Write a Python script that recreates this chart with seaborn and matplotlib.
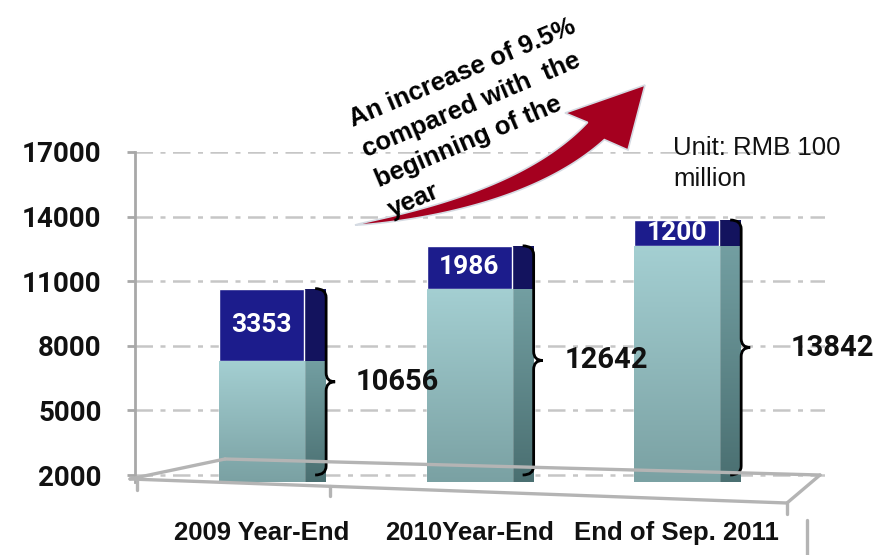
import numpy as np
import pandas as pd
import matplotlib
matplotlib.use("Agg")
import matplotlib.pyplot as plt
import seaborn as sns
from matplotlib.patches import Rectangle, Polygon, PathPatch
from matplotlib.path import Path
from matplotlib.lines import Line2D
from matplotlib.colors import LinearSegmentedColormap

# ---- balances, RMB 100 million ----
periods = ["2009 Year-End", "2010Year-End", "End of Sep. 2011"]
opening_balance = [7303, 10656, 12642]
new_increase = [3353, 1986, 1200]
closing_balance = [10656, 12642, 13842]
y_ticks = [2000, 5000, 8000, 11000, 14000, 17000]
growth_note = "An increase of 9.5%\ncompared with  the\nbeginning of the\nyear"
unit_note = "Unit: RMB 100\nmillion"

# ---- canvas ----
W, H = 891, 555
sns.set_theme(style="white")
plt.rcParams["font.family"] = ["Roboto", "DejaVu Sans"]
ARIAL = ["Liberation Sans", "DejaVu Sans"]
fig = plt.figure(figsize=(W / 100, H / 100), dpi=100)


def fpos(x, y):
    """pixel position (top-left origin) -> figure fraction"""
    return x / W, 1 - y / H


ax_l, ax_r, ax_t, ax_b = 135, 825, 152, 482
ax = fig.add_axes([ax_l / W, 1 - ax_b / H, (ax_r - ax_l) / W, (ax_b - ax_t) / H])

df = pd.DataFrame({"period": periods, "opening": opening_balance,
                   "increase": new_increase, "closing": closing_balance})

bar_w = 0.41
side_w = 0.106
navy, navy_side = "#1c1c8c", "#13135e"
teal_cmap = LinearSegmentedColormap.from_list("teal", ["#7aa1a3", "#a4cfd2"])
teal_side_cmap = LinearSegmentedColormap.from_list("teal_side", ["#4a6f71", "#739fa2"])

# full stack (navy shows as the increase on top), then opening balance over it
sns.barplot(data=df, x="period", y="closing", color=navy, width=bar_w,
            saturation=1, ax=ax, zorder=3)
sns.barplot(data=df, x="period", y="opening", color="#93c0c3", width=bar_w,
            saturation=1, ax=ax, zorder=4)

ymin, ymax = 1675, 17000
xlim = (-0.61, 2.715)
grad = np.linspace(1, 0, 256)[:, None]

n = len(periods)
top_patches = ax.patches[:n]
low_patches = ax.patches[n:2 * n]
for i in range(n):
    tp, lp = top_patches[i], low_patches[i]
    x0 = lp.get_x()
    x1 = x0 + lp.get_width()
    base_top = lp.get_height()
    total_top = tp.get_height()
    # shaded front of the opening balance
    im = ax.imshow(grad, cmap=teal_cmap, aspect="auto", origin="upper",
                   extent=(x0, x1, ymin, base_top), zorder=4.5)
    im.set_clip_path(lp)
    # side faces
    ax.add_patch(Rectangle((x1, ymin), side_w, total_top - ymin,
                           facecolor=navy_side, edgecolor="none", zorder=2.9))
    side = Rectangle((x1, ymin), side_w, base_top - ymin,
                     facecolor="none", edgecolor="none", zorder=3.5)
    ax.add_patch(side)
    ims = ax.imshow(grad, cmap=teal_side_cmap, aspect="auto", origin="upper",
                    extent=(x1, x1 + side_w, ymin, base_top), zorder=3.5)
    ims.set_clip_path(side)
    # increase value on the navy segment
    ax.text(x0 + lp.get_width() / 2, base_top + new_increase[i] / 2,
            f"{new_increase[i]}", color="white", fontsize=19, fontweight="bold",
            ha="center", va="center", zorder=6)

ax.set_xlim(*xlim)
ax.set_ylim(ymin, ymax)
ax.set_yticks(y_ticks)
ax.set_yticklabels([str(v) for v in y_ticks], fontsize=20, fontweight="bold",
                   color="#111111")

# dash-dot grid
ax.set_axisbelow(True)
ax.yaxis.grid(True, color="#c6c6c6", linestyle=(0, (7, 3, 2, 3)), linewidth=1.8)
ax.xaxis.grid(False)
for s in ("top", "right", "bottom"):
    ax.spines[s].set_visible(False)
ax.spines["left"].set_color("#a8a8a8")
ax.spines["left"].set_linewidth(2)
ax.tick_params(axis="y", left=True, length=6, width=2, color="#a8a8a8", pad=18)
ax.tick_params(axis="x", bottom=False, length=0, pad=28)
ax.set_xticks(range(n))
ax.set_xticklabels(periods, fontsize=18.5, fontweight="bold",
                   family=ARIAL, color="#111111")
ax.set_xlabel("")
ax.set_ylabel("")

# ---- curly braces with closing balances ----
px_x = (xlim[1] - xlim[0]) / (ax_r - ax_l)        # data units per pixel, x
px_y = (ymax - ymin) / (ax_b - ax_t)              # data units per pixel, y


def brace(xline, ylo, yhi):
    hook, tip, r = 11 * px_x, 9 * px_x, 9 * px_y
    ymid = (ylo + yhi) / 2
    verts = [(xline - hook, yhi), (xline, yhi), (xline, yhi - r),
             (xline, ymid + r), (xline, ymid), (xline + tip, ymid),
             (xline, ymid), (xline, ymid - r),
             (xline, ylo + r), (xline, ylo), (xline - hook, ylo)]
    codes = [Path.MOVETO, Path.CURVE3, Path.CURVE3,
             Path.LINETO, Path.CURVE3, Path.CURVE3,
             Path.CURVE3, Path.CURVE3,
             Path.LINETO, Path.CURVE3, Path.CURVE3]
    ax.add_patch(PathPatch(Path(verts, codes), facecolor="none",
                           edgecolor="black", linewidth=2, zorder=7,
                           clip_on=False))
    return xline + tip, ymid


label_gap_px = [20, 22, 40]
for i in range(n):
    lp = low_patches[i]
    x1 = lp.get_x() + lp.get_width()
    tip_x, ymid = brace(x1 + 22 * px_x, 2000, closing_balance[i])
    ax.text(tip_x + label_gap_px[i] * px_x, ymid, f"{closing_balance[i]}",
            fontsize=21, fontweight="bold", color="#111111",
            ha="left", va="center", zorder=8)

# ---- perspective floor ----
floor = [((130, 479), (225, 459)), ((225, 459), (820, 475)),
         ((130, 479), (787, 503)), ((787, 503), (820, 475)),
         ((137, 479), (137, 490)), ((330, 486), (330, 496)),
         ((787, 503), (787, 514)), ((807, 520), (807, 555))]
for (a, b) in floor:
    (xa, ya), (xb, yb) = fpos(*a), fpos(*b)
    fig.add_artist(Line2D([xa, xb], [ya, yb], color="#b4b4b4", linewidth=2.4,
                          zorder=1))

# ---- growth arrow ----
P0 = np.array([355.0, 225.0])
C = np.array([524.0, 201.0])
P2 = np.array([596.0, 131.0])
t = np.linspace(0, 1, 80)[:, None]
pts = (1 - t) ** 2 * P0 + 2 * (1 - t) * t * C + t ** 2 * P2
der = 2 * (1 - t) * (C - P0) + 2 * t * (P2 - C)
der /= np.linalg.norm(der, axis=1, keepdims=True)
normal = np.column_stack([der[:, 1], -der[:, 0]])
half = 12.0 * t[:, 0] ** 0.7
upper = pts + normal * half[:, None]
lower = pts - normal * half[:, None]
head = np.array([[565.0, 113.0], [645.0, 85.0], [628.0, 150.0]])
outline = np.vstack([upper, head, lower[::-1]])
outline_fig = np.array([fpos(x, y) for x, y in outline])
fig.add_artist(Polygon(outline_fig, closed=True, facecolor="#a5001f",
                       edgecolor="#d5dbe3", linewidth=1.2, zorder=9))

fig.text(*fpos(346, 110), growth_note, fontsize=18.5, fontweight="bold",
         family=ARIAL, color="black",
         rotation=23, rotation_mode="anchor", ha="left", va="top",
         multialignment="left", linespacing=1.45, zorder=10)

fig.text(*fpos(673, 136), unit_note, fontsize=18.5, family=ARIAL,
         color="#111111", ha="left", va="top", linespacing=1.35, zorder=10)

fig.savefig("out.png", dpi=100, facecolor="white")
